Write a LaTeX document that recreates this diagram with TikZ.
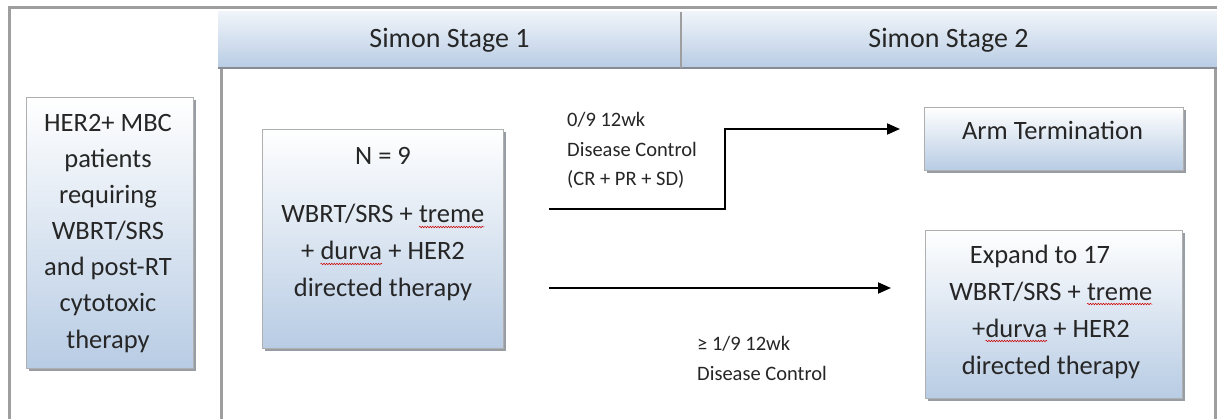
\documentclass[tikz,border=0pt]{standalone}
\usepackage{fontspec}
\setmainfont{Carlito}
\usetikzlibrary{arrows.meta,shadows,decorations.pathmorphing}
\definecolor{paleblue}{RGB}{184,204,228}
\definecolor{headtop}{RGB}{240,244,250}
\definecolor{framegray}{RGB}{158,158,158}
\definecolor{edgegray}{RGB}{175,175,175}
\definecolor{shadowgray}{RGB}{135,140,148}
\definecolor{inkgray}{RGB}{38,38,38}

% spell-check style squiggle under a word
\newcommand\wavy[1]{\tikz[baseline=(wv.base)]{\node[inner sep=0pt,outer sep=0pt](wv){#1};
  \draw[red!80!black,line width=0.5pt,decorate,decoration={snake,amplitude=0.8pt,segment length=2.6pt}]
    ([yshift=-4pt]wv.base west)--([yshift=-4pt]wv.base east);}}

\begin{document}
\begin{tikzpicture}[x=1pt,y=-1pt,
  box/.style={draw=edgegray,line width=0.8pt,top color=white,bottom color=paleblue,
    drop shadow={shadow xshift=3pt,shadow yshift=-3pt,fill=shadowgray,opacity=0.85},
    inner sep=0pt},
  % multi-line texts are placed by the baseline of their last line
  boxtext/.style={align=center,inner sep=0pt,anchor=base,text=inkgray,
    font=\fontsize{26.5}{37}\selectfont},
  hdr/.style={top color=headtop,bottom color=paleblue,inner sep=0pt,
    text=inkgray,font=\fontsize{28}{30}\selectfont},
  lbl/.style={align=left,inner sep=0pt,anchor=base west,text=inkgray,
    font=\fontsize{20.5}{29.5}\selectfont},
  flow/.style={line width=1.8pt,-{Triangle[length=13pt,width=11pt]}}]

% canvas
\fill[white] (0,0) rectangle (1217,419);
\useasboundingbox (0,0) rectangle (1217,419);

% table frame
\draw[framegray,line width=3pt] (9,419) -- (9,8) -- (1217,8);
\draw[framegray,line width=3pt] (221,68) -- (221,419);
\draw[framegray,line width=3pt] (1215,68) -- (1215,419);

% header row
\node[hdr,minimum width=463pt,minimum height=56pt] (h1) at (449.5,40) {Simon Stage 1};
\node[hdr,minimum width=537pt,minimum height=56pt] (h2) at (948.5,40) {Simon Stage 2};
\draw[shadowgray,line width=2.5pt] (h1.south west) -- (h2.south east);
\draw[framegray,line width=2pt] (h1.north east) -- (h1.south east);

% boxes
\node[box,minimum width=167pt,minimum height=271pt] (pop) at (109.5,232.5) {};
\node[boxtext,font=\fontsize{26.5}{36}\selectfont] (popt) at (108,348)
  {HER2+ MBC\\patients\\requiring\\WBRT/SRS\\and post-RT\\cytotoxic\\therapy};

\node[box,minimum width=241pt,minimum height=219pt] (n9) at (382.5,238.5) {};
\node[boxtext] (n9t) at (383,297)
  {N = 9\\[21pt]WBRT/SRS + \wavy{treme}\\+ \wavy{durva} + HER2\\directed therapy};

\node[box,minimum width=259pt,minimum height=63pt] (arm) at (1053.5,138.5) {};
\node[boxtext] (armt) at (1052.5,140) {Arm Termination};

\node[box,minimum width=257pt,minimum height=168pt] (exp) at (1053.5,314) {};
\node[boxtext] (expt) at (1051,374)
  {Expand to 17\hspace*{22pt}\\WBRT/SRS + \wavy{treme}\\+\wavy{durva} + HER2\\directed therapy};

% connectors
\coordinate (u0) at (549,209);
\coordinate (u1) at (900,129);
\coordinate (l0) at (549,288);
\coordinate (l1) at (891,288);
\draw[flow] (u0) -- ++(176,0) |- (u1);
\draw[flow] (l0) -- (l1);

% branch labels
\node[lbl] (c0) at (567,186) {0/9 12wk\\Disease Control\\(CR + PR + SD)};
\node[lbl] (c1) at (697,380) {≥ 1/9 12wk\\Disease Control};
\end{tikzpicture}
\end{document}
